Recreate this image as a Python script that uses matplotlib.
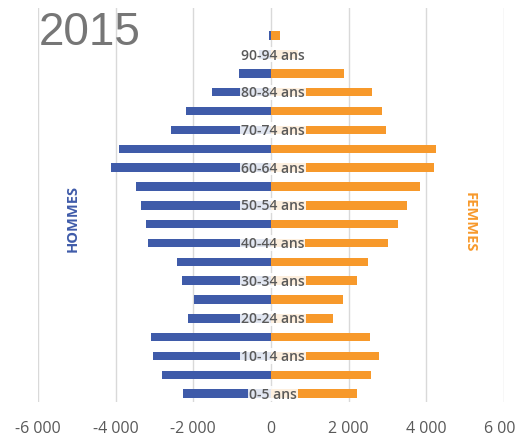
import matplotlib.pyplot as plt
import numpy as np

# age groups from youngest to oldest (label shown every other row)
age_groups = ["0-5 ans", "5-9 ans", "10-14 ans", "15-19 ans", "20-24 ans", "25-29 ans",
              "30-34 ans", "35-39 ans", "40-44 ans", "45-49 ans", "50-54 ans", "55-59 ans",
              "60-64 ans", "65-69 ans", "70-74 ans", "75-79 ans", "80-84 ans", "85-89 ans",
              "90-94 ans", "95+ ans"]
hommes = [2270, 2810, 3030, 3080, 2130, 1980, 2280, 2420, 3160, 3210,
          3360, 3480, 4130, 3920, 2580, 2200, 1510, 820, 300, 50]
femmes = [2210, 2580, 2780, 2540, 1600, 1850, 2210, 2510, 3010, 3280,
          3490, 3830, 4190, 4260, 2950, 2860, 2610, 1880, 700, 240]
xticks = [-6000, -4000, -2000, 0, 2000, 4000, 6000]
year = "2015"

BLUE = "#3F5BA9"
ORANGE = "#F7992B"
GREY = "#595959"


def fmt(v):
    s = f"{abs(v):,}".replace(",", " ")
    return ("-" if v < 0 else "") + s


def main() -> None:
    fig = plt.figure(figsize=(5.15, 4.39), dpi=100)
    ax = fig.add_axes([38 / 515, 36 / 439, 466 / 515, 394 / 439])

    y = np.arange(len(age_groups))
    ax.barh(y, [-v for v in hommes], height=0.45, color=BLUE, zorder=2)
    ax.barh(y, femmes, height=0.45, color=ORANGE, zorder=2)

    ax.set_xlim(-6000, 6000)
    ax.set_ylim(-0.44, 20.47)
    ax.set_xticks(xticks)
    ax.set_xticklabels([fmt(v) for v in xticks], fontsize=11.5, color=GREY,
                       family="Open Sans")
    ax.tick_params(axis="x", length=0, pad=13)
    ax.set_yticks([])
    for v in xticks:
        ax.axvline(v, color="#D9D9D9", lw=1, zorder=1)
    for s in ax.spines.values():
        s.set_visible(False)

    for i, name in enumerate(age_groups):
        if i % 2 == 0:
            ax.text(50, i, name, ha="center", va="center", fontsize=10, color=GREY,
                    family="Open Sans", weight="semibold", zorder=3,
                    bbox=dict(boxstyle="square,pad=0.05", fc="white", ec="none", alpha=0.85))

    fig.text(73 / 515, 1 - 219 / 439, "HOMMES", rotation=90, ha="center", va="center",
             color=BLUE, fontsize=10.5, weight="bold", family="Open Sans")
    fig.text(470 / 515, 1 - 222 / 439, "FEMMES", rotation=-90, ha="center", va="center",
             color=ORANGE, fontsize=10.5, weight="bold", family="Open Sans")
    fig.text(39 / 515, 1 - 45 / 439, year, ha="left", va="baseline", color="#767676",
             fontsize=33, family="Liberation Sans")

    fig.savefig("out.png", dpi=100)
    plt.close(fig)


if __name__ == "__main__":
    main()
